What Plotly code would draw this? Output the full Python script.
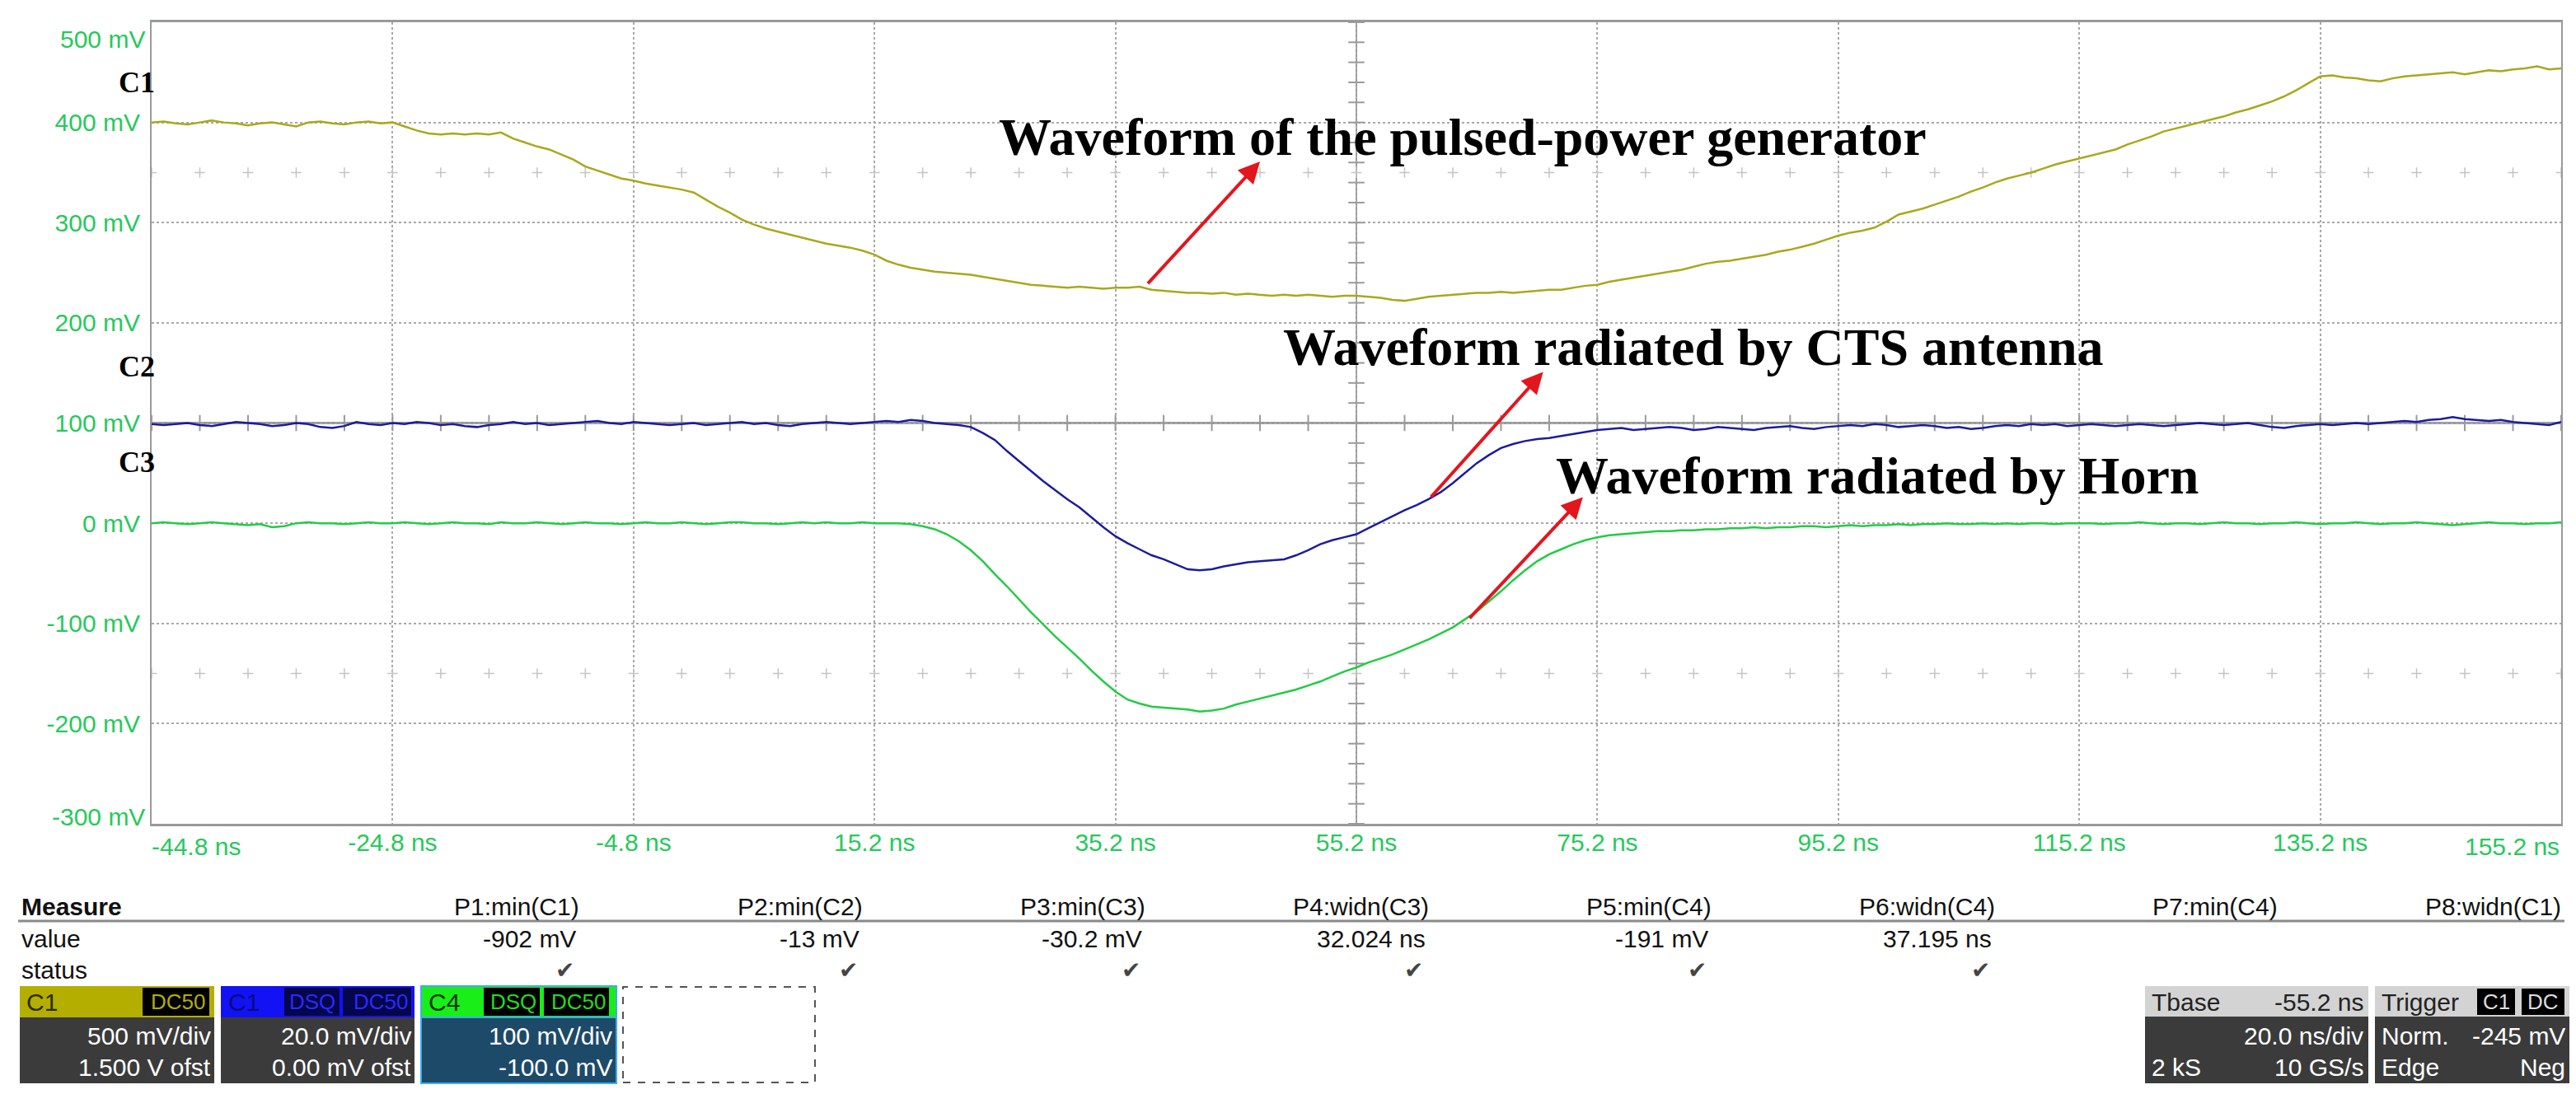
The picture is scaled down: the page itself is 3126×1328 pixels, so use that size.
import numpy as np
import plotly.graph_objects as go

# ---------------- data ----------------
T0 = -44.8      # ns, left edge of the record
DT = 1.0        # ns, spacing of the read-off samples

c1_mv = [400, 401, 399, 398, 400, 402, 400, 399, 397, 399,
         400, 398, 396, 400, 401, 399, 398, 400, 401, 399,
         400, 396, 392, 389, 388, 389, 388, 389, 388, 390,
         384, 380, 376, 373, 368, 363, 356, 352, 348, 344,
         342, 339, 337, 335, 333, 330, 323, 316, 310, 303,
         298, 294, 291, 288, 285, 282, 279, 277, 275, 272,
         268, 262, 258, 255, 253, 251, 250, 249, 248, 246,
         244, 242, 240, 238, 237, 236, 235, 236, 235, 234,
         235, 235, 236, 233, 232, 231, 230, 230, 229, 230,
         228, 229, 228, 227, 228, 227, 228, 227, 226, 227,
         227, 226, 225, 223, 222, 224, 226, 227, 228, 229,
         230, 230, 231, 230, 231, 232, 233, 233, 235, 237,
         238, 241, 243, 245, 247, 249, 251, 253, 256, 259,
         261, 262, 264, 266, 268, 271, 273, 276, 279, 283,
         287, 290, 292, 295, 301, 308, 311, 314, 318, 322,
         326, 331, 335, 340, 344, 347, 350, 354, 358, 361,
         364, 367, 370, 373, 378, 382, 386, 391, 394, 397,
         400, 403, 406, 410, 413, 417, 421, 426, 432, 439,
         446, 447, 445, 444, 442, 441, 444, 446, 447, 448,
         449, 450, 448, 450, 452, 451, 453, 454, 456, 453, 454]

c2_mv = [99, 98, 99, 100, 98, 97, 99, 101, 100, 99,
         97, 98, 100, 99, 96, 95, 97, 101, 99, 98,
         100, 99, 101, 100, 98, 99, 97, 96, 98, 99,
         101, 99, 100, 98, 99, 100, 101, 102, 100, 99,
         101, 100, 99, 98, 99, 100, 98, 99, 100, 101,
         99, 100, 98, 97, 99, 100, 101, 100, 99, 100,
         101, 102, 101, 103, 102, 100, 99, 98, 96, 90,
         83, 72, 62, 52, 42, 33, 24, 16, 6, -4,
         -13, -20, -26, -32, -36, -41, -46, -47, -46, -43,
         -41, -39, -38, -37, -36, -32, -27, -21, -17, -14,
         -11, -5, 1, 7, 13, 18, 24, 31, 40, 50,
         60, 68, 75, 79, 82, 84, 85, 87, 89, 91,
         93, 94, 95, 93, 94, 95, 96, 95, 93, 94,
         96, 95, 94, 93, 95, 96, 97, 95, 94, 96,
         97, 98, 97, 99, 98, 96, 97, 98, 97, 95,
         96, 94, 95, 97, 98, 97, 99, 98, 99, 97,
         98, 99, 98, 97, 98, 99, 98, 97, 98, 99,
         100, 99, 98, 99, 100, 98, 96, 95, 97, 98,
         99, 98, 99, 100, 99, 100, 101, 102, 101, 103,
         104, 106, 104, 103, 102, 103, 101, 100, 99, 98, 101]

c4_mv = [0, 1, 0, -1, 0, 1, 0, -1, -2, -1,
         -4, -3, 0, 1, 0, 0, -1, 0, 1, 0,
         0, 1, 0, -1, 0, 1, 0, 0, -1, 1,
         0, 0, 1, 0, -1, 0, 1, 0, 0, -1,
         0, 1, 0, 0, 1, 0, -1, 0, 1, 1,
         0, 0, -1, 0, 1, 0, 1, 0, 0, 1,
         0, 0, 0, -1, -3, -6, -11, -18, -27, -38,
         -51, -63, -76, -89, -101, -113, -124, -135, -147, -158,
         -168, -176, -180, -183, -184, -185, -186, -188, -187, -185,
         -181, -178, -175, -172, -169, -166, -162, -158, -153, -148,
         -144, -139, -135, -131, -126, -121, -116, -110, -104, -96,
         -88, -78, -68, -57, -47, -38, -31, -26, -21, -17,
         -14, -12, -11, -10, -9, -8, -8, -7, -7, -6,
         -6, -5, -5, -4, -5, -4, -4, -3, -3, -4,
         -3, -2, -3, -2, -2, -1, -2, -1, -1, 0,
         -1, -1, 0, -1, 0, -1, 0, 0, -1, 0,
         0, 0, -1, 0, 0, 1, 0, -1, 0, 0,
         -1, 0, 1, 0, 0, -1, 0, 0, 1, 0,
         -1, 0, 0, 1, 0, -1, 0, 0, 1, 0,
         -1, -2, -1, 0, 1, 0, 0, -1, 0, 0, 1]

x_tick_vals = [-24.8, -4.8, 15.2, 35.2, 55.2, 75.2, 95.2, 115.2, 135.2]
x_range = [-44.8, 155.2]
y_tick_vals = [400, 300, 200, 100, 0, -100, -200]
y_range = [-300, 500]

measure_names = ["P1:min(C1)", "P2:min(C2)", "P3:min(C3)", "P4:widn(C3)",
                 "P5:min(C4)", "P6:widn(C4)", "P7:min(C4)", "P8:widn(C1)"]
measure_values = ["-902 mV", "-13 mV", "-30.2 mV", "32.024 ns",
                  "-191 mV", "37.195 ns", "", ""]
measure_status = [True, True, True, True, True, True, False, False]

# ---------------- layout geometry ----------------
W, H = 3126, 1328
ML, MR, MT, MB = 176, 26, 19, 336
PW = W - ML - MR
PH = H - MT - MB


def PX(px):
    return (px - ML) / PW


def PY(py):
    return (H - MB - py) / PH


def tvec(vals):
    return np.round(T0 + DT * np.arange(len(vals)), 1)


YEL = "#a9a81c"
BLU = "#1c1c9e"
GRN = "#22cc44"
LBL = "#27c95c"
SANS = "Liberation Sans, Arial, sans-serif"
SERIF = "Liberation Serif, Times New Roman, serif"

fig = go.Figure()

# scope reticle minor ticks along the centre cross and the 2.5-div rows
cx = 55.2
cy = 100
xt = np.round(np.arange(x_range[0], x_range[1] + 0.01, 4.0), 1)
yt = np.arange(y_range[0], y_range[1] + 0.1, 20.0)
fig.add_trace(go.Scatter(x=xt, y=[cy] * len(xt), mode="markers",
                         marker=dict(symbol="line-ns", size=14, line=dict(color="#9a9a9a", width=2)),
                         hoverinfo="skip", showlegend=False))
fig.add_trace(go.Scatter(x=[cx] * len(yt), y=yt, mode="markers",
                         marker=dict(symbol="line-ew", size=14, line=dict(color="#9a9a9a", width=2)),
                         hoverinfo="skip", showlegend=False))
for yy in (350, -150):
    fig.add_trace(go.Scatter(x=xt, y=[yy] * len(xt), mode="markers",
                             marker=dict(symbol="cross-thin", size=9, line=dict(color="#c4c4c4", width=1.5)),
                             hoverinfo="skip", showlegend=False))

# waveforms
for vals, col in ((c1_mv, YEL), (c2_mv, BLU), (c4_mv, GRN)):
    fig.add_trace(go.Scatter(x=tvec(vals), y=vals, mode="lines",
                             line=dict(color=col, width=2.5), hoverinfo="skip",
                             showlegend=False))

shapes = []
# centre cross (solid)
shapes.append(dict(type="line", xref="x", yref="y", x0=cx, x1=cx, y0=y_range[0], y1=y_range[1],
                   line=dict(color="#9a9a9a", width=2), layer="below"))
shapes.append(dict(type="line", xref="x", yref="y", x0=x_range[0], x1=x_range[1], y0=cy, y1=cy,
                   line=dict(color="#9a9a9a", width=3), layer="below"))

annotations = []


def txt(px, py, s, xanchor="left", size=30, color="#111111", family=SANS):
    annotations.append(dict(xref="paper", yref="paper", x=PX(px), y=PY(py), text=s,
                            showarrow=False, xanchor=xanchor, yanchor="middle",
                            font=dict(size=size, color=color, family=family)))


# edge tick labels (shifted inside like the scope does)
annotations.append(dict(xref="x", yref="paper", x=x_range[0], y=PY(1019), text="-44.8 ns",
                        showarrow=False, xanchor="left", yanchor="middle", xshift=-2,
                        font=dict(size=30, color=LBL, family=SANS)))
annotations.append(dict(xref="x", yref="paper", x=x_range[1], y=PY(1019), text="155.2 ns",
                        showarrow=False, xanchor="right", yanchor="middle",
                        font=dict(size=30, color=LBL, family=SANS)))
annotations.append(dict(xref="paper", yref="y", x=0, y=y_range[1], yshift=-20, xshift=-6,
                        text="500 mV", showarrow=False, xanchor="right", yanchor="middle",
                        font=dict(size=30, color=LBL, family=SANS)))
annotations.append(dict(xref="paper", yref="y", x=0, y=y_range[0], yshift=9, xshift=-6,
                        text="-300 mV", showarrow=False, xanchor="right", yanchor="middle",
                        font=dict(size=30, color=LBL, family=SANS)))

# channel markers
for lab, yv in (("C1", 440), ("C2", 156), ("C3", 61)):
    annotations.append(dict(xref="paper", yref="y", x=0, y=yv, xshift=6, text="<b>%s</b>" % lab,
                            showarrow=False, xanchor="right", yanchor="middle",
                            font=dict(size=36, color="#000000", family=SERIF)))

# callout texts
for s, tx, ty in (("Waveform of the pulsed-power generator", 25.4, 385),
                  ("Waveform radiated by CTS antenna", 49.0, 176),
                  ("Waveform radiated by Horn", 71.6, 47)):
    annotations.append(dict(xref="x", yref="y", x=tx, y=ty, text="<b>%s</b>" % s,
                            showarrow=False, xanchor="left", yanchor="middle",
                            font=dict(size=64, color="#000000", family=SERIF)))

# red arrows (head, tail)
for hx, hy, tx_, ty_ in ((47.2, 361, 37.8, 238), (70.7, 151, 61.3, 25), (74.0, 26, 64.5, -96)):
    annotations.append(dict(xref="x", yref="y", x=hx, y=hy, axref="x", ayref="y", ax=tx_, ay=ty_,
                            text="", showarrow=True, arrowhead=2, arrowsize=1.3, arrowwidth=4,
                            arrowcolor="#e3161d", standoff=0, startstandoff=0))

# ---------------- measurement table ----------------
txt(16, 1092, "<b>Measure</b>", size=30)
txt(16, 1131, "value", size=30)
txt(16, 1169, "status", size=30)
shapes.append(dict(type="line", xref="paper", yref="paper", x0=PX(14), x1=PX(3104), y0=PY(1110), y1=PY(1110),
                   line=dict(color="#8a8a8a", width=3)))
for k, (nm, vl, st) in enumerate(zip(measure_names, measure_values, measure_status)):
    rx = 697 + k * 343.5
    txt(rx, 1092, nm, xanchor="right")
    if vl:
        txt(rx - 4, 1131, vl, xanchor="right")
    if st:
        txt(rx - 6, 1169, "✔", xanchor="right", size=28, color="#454545",
            family="DejaVu Sans, sans-serif")


def rect(x0, y0, x1, y1, fill, line_col=None, lw=0, dash=None):
    ln = dict(width=lw, color=line_col if line_col else fill)
    if dash:
        ln["dash"] = dash
    shapes.append(dict(type="rect", xref="paper", yref="paper", x0=PX(x0), x1=PX(x1),
                       y0=PY(y1), y1=PY(y0), fillcolor=fill, line=ln))


# channel descriptor boxes
BODY = "#3b3b3b"
# C1
rect(16, 1189, 252, 1227, "#b4ae00")
rect(16, 1227, 252, 1307, BODY)
txt(22, 1208, "C1", size=30, color="#2a2a00")
rect(165, 1191, 246, 1225, "#000000")
txt(243, 1208, "DC50", xanchor="right", size=26, color="#b4ae00")
txt(250, 1249, "500 mV/div", xanchor="right", color="#ffffff")
txt(250, 1287, "1.500 V ofst", xanchor="right", color="#ffffff")
# C2 (blue)
rect(260, 1189, 495, 1227, "#1212f5")
rect(260, 1227, 495, 1307, BODY)
txt(267, 1208, "C1", size=30, color="#0a0a80")
rect(337, 1191, 404, 1225, "#06064a")
rect(408, 1191, 491, 1225, "#06064a")
txt(401, 1208, "DSQ", xanchor="right", size=26, color="#2a2aff")
txt(489, 1208, "DC50", xanchor="right", size=26, color="#2a2aff")
txt(493, 1249, "20.0 mV/div", xanchor="right", color="#ffffff")
txt(493, 1287, "0.00 mV ofst", xanchor="right", color="#ffffff")
# C4 (green)
rect(503, 1189, 740, 1227, "#19ee19", "#3fa9f5", 2)
rect(503, 1227, 740, 1307, "#1d4a68", "#3fa9f5", 2)
txt(510, 1208, "C4", size=30, color="#0a300a")
rect(579, 1191, 647, 1225, "#000000")
rect(652, 1191, 731, 1225, "#000000")
txt(645, 1208, "DSQ", xanchor="right", size=26, color="#22dd22")
txt(729, 1208, "DC50", xanchor="right", size=26, color="#22dd22")
txt(737, 1249, "100 mV/div", xanchor="right", color="#ffffff")
txt(737, 1287, "-100.0 mV", xanchor="right", color="#ffffff")
# empty dashed slot
rect(748, 1190, 981, 1306, "rgba(0,0,0,0)", "#555555", 2, "dash")

# timebase box
rect(2595, 1189, 2866, 1226, "#d3d3d3")
rect(2595, 1226, 2866, 1307, BODY)
txt(2601, 1208, "Tbase", color="#222222")
txt(2862, 1208, "-55.2 ns", xanchor="right", color="#222222")
txt(2862, 1249, "20.0 ns/div", xanchor="right", color="#ffffff")
txt(2601, 1287, "2 kS", color="#ffffff")
txt(2862, 1287, "10 GS/s", xanchor="right", color="#ffffff")
# trigger box
rect(2874, 1189, 3110, 1226, "#d3d3d3")
rect(2874, 1226, 3110, 1307, BODY)
txt(2880, 1208, "Trigger", color="#222222")
rect(2998, 1192, 3044, 1224, "#000000")
rect(3052, 1192, 3104, 1224, "#000000")
txt(3021, 1208, "C1", xanchor="center", size=26, color="#dddddd")
txt(3078, 1208, "DC", xanchor="center", size=26, color="#dddddd")
txt(2880, 1249, "Norm.", color="#ffffff")
txt(3107, 1249, "-245 mV", xanchor="right", color="#ffffff")
txt(2880, 1287, "Edge", color="#ffffff")
txt(3107, 1287, "Neg", xanchor="right", color="#ffffff")

fig.update_layout(
    width=W, height=H,
    margin=dict(l=ML, r=MR, t=MT, b=MB, pad=0),
    paper_bgcolor="#ffffff", plot_bgcolor="#ffffff",
    showlegend=False,
    shapes=shapes,
    annotations=annotations,
    font=dict(family=SANS, size=30, color="#111111"),
)
fig.update_xaxes(range=x_range, tickmode="array", tickvals=x_tick_vals,
                 ticktext=["%g ns" % v for v in x_tick_vals],
                 tickfont=dict(size=30, color=LBL, family=SANS),
                 showgrid=True, gridcolor="#a8a8a8", gridwidth=1.5, griddash="dot",
                 zeroline=False, showline=True, linecolor="#9a9a9a", linewidth=3, mirror=True,
                 ticks="", ticklabelstandoff=-6, fixedrange=True)
fig.update_yaxes(range=y_range, tickmode="array", tickvals=y_tick_vals,
                 ticktext=["%d mV" % v for v in y_tick_vals],
                 tickfont=dict(size=30, color=LBL, family=SANS),
                 showgrid=True, gridcolor="#a8a8a8", gridwidth=1.5, griddash="dot",
                 zeroline=False, showline=True, linecolor="#9a9a9a", linewidth=2, mirror=True,
                 ticks="", ticklabelstandoff=6, fixedrange=True)

fig.write_html("out.html")
